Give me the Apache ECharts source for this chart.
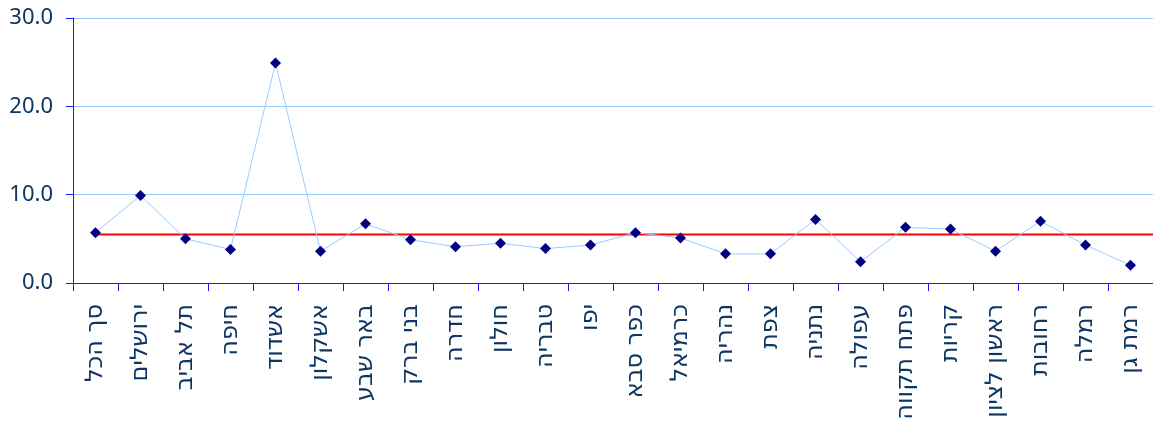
<!DOCTYPE html>
<html>
<head>
<meta charset="utf-8">
<script src="https://cdn.jsdelivr.net/npm/echarts@6/dist/echarts.min.js"></script>
<style>
  html, body { margin: 0; padding: 0; background: #ffffff; }
  #chart { width: 1153px; height: 427px; }
</style>
</head>
<body>
<div id="chart"></div>
<script>
// Cities (category axis)
const cities = ['סך הכל', 'ירושלים', 'תל אביב', 'חיפה', 'אשדוד', 'אשקלון', 'באר שבע', 'בני ברק',
  'חדרה', 'חולון', 'טבריה', 'יפו', 'כפר סבא', 'כרמיאל', 'נהריה', 'צפת', 'נתניה', 'עפולה',
  'פתח תקווה', 'קריות', 'ראשון לציון', 'רחובות', 'רמלה', 'רמת גן'];

// Value per city
const values = [5.7, 9.9, 5.0, 3.8, 24.9, 3.6, 6.7, 4.9, 4.1, 4.5, 3.9, 4.3,
  5.7, 5.1, 3.3, 3.3, 7.2, 2.4, 6.3, 6.1, 3.6, 7.0, 4.3, 2.0];

// Reference level drawn as the red horizontal line
const referenceLevel = [5.5];

// Value axis ticks
const yTicks = [0, 10, 20, 30];

const chart = echarts.init(document.getElementById('chart'), null, { renderer: 'canvas' });

const axisBlue = '#1a1aff';
const textNavy = '#0d3663';
const n = cities.length;

chart.setOption({
  animation: false,
  backgroundColor: '#ffffff',
  grid: { left: 73, right: 0, top: 18, bottom: 144, containLabel: false },
  xAxis: [{
    type: 'category',
    data: cities,
    boundaryGap: true,
    axisLine: { show: true, onZero: false, lineStyle: { color: axisBlue, width: 1 } },
    axisTick: { show: true, length: 8, lineStyle: { color: axisBlue, width: 1 } },
    axisLabel: {
      rotate: 90,
      interval: 0,
      margin: 21,
      color: textNavy,
      fontFamily: 'DejaVu Sans',
      fontSize: 24
    },
    splitLine: { show: false }
  }, {
    // hidden helper axis: category i sits at value i
    type: 'value',
    min: -0.5,
    max: n - 0.5,
    show: false,
    splitLine: { show: false }
  }],
  yAxis: {
    type: 'value',
    min: yTicks[0],
    max: yTicks[yTicks.length - 1],
    interval: yTicks[1] - yTicks[0],
    axisLine: { show: true, onZero: false, lineStyle: { color: axisBlue, width: 1 } },
    axisTick: { show: true, length: 7, lineStyle: { color: axisBlue, width: 1 } },
    axisLabel: {
      margin: 20,
      color: textNavy,
      fontFamily: 'Noto Sans',
      fontSize: 22,
      formatter: v => v.toFixed(1)
    },
    splitLine: { show: true, lineStyle: { color: '#99ccff', width: 1 } }
  },
  series: [{
    // red reference line, from the first city to the right edge of the plot
    type: 'line',
    xAxisIndex: 1,
    data: [[0, referenceLevel[0]], [n - 0.5, referenceLevel[0]]],
    symbol: 'none',
    lineStyle: { color: '#ff0000', width: 2 },
    silent: true,
    z: 2
  }, {
    type: 'line',
    data: values,
    symbol: 'diamond',
    symbolSize: 11,
    itemStyle: { color: '#000080' },
    lineStyle: { color: '#99ccff', width: 1 },
    z: 3
  }]
});
</script>
</body>
</html>
